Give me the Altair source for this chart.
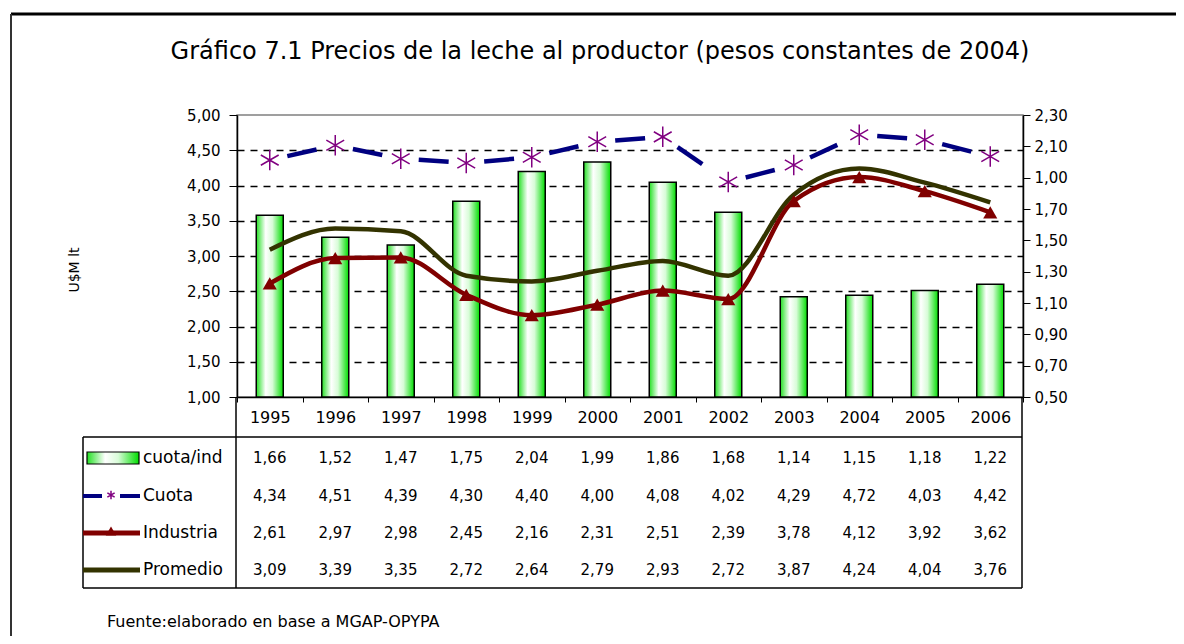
import altair as alt
import pandas as pd

# ---------------- data ----------------
years = ["1995", "1996", "1997", "1998", "1999", "2000",
         "2001", "2002", "2003", "2004", "2005", "2006"]

# values as printed in the data table
tab_cuota_ind = [1.66, 1.52, 1.47, 1.75, 2.04, 1.99, 1.86, 1.68, 1.14, 1.15, 1.18, 1.22]
tab_cuota = [4.34, 4.51, 4.39, 4.30, 4.40, 4.00, 4.08, 4.02, 4.29, 4.72, 4.03, 4.42]
tab_industria = [2.61, 2.97, 2.98, 2.45, 2.16, 2.31, 2.51, 2.39, 3.78, 4.12, 3.92, 3.62]
tab_promedio = [3.09, 3.39, 3.35, 2.72, 2.64, 2.79, 2.93, 2.72, 3.87, 4.24, 4.04, 3.76]

# values as drawn in the plot
plot_cuota_ind = [1.66, 1.52, 1.47, 1.75, 1.94, 2.00, 1.87, 1.68, 1.14, 1.15, 1.18, 1.22]
plot_cuota = [4.36, 4.57, 4.38, 4.32, 4.40, 4.62, 4.69, 4.05, 4.29, 4.72, 4.65, 4.41]
plot_industria = [2.61, 2.97, 2.98, 2.45, 2.16, 2.31, 2.51, 2.39, 3.78, 4.12, 3.92, 3.62]
plot_promedio = [3.09, 3.39, 3.35, 2.72, 2.64, 2.79, 2.93, 2.72, 3.87, 4.24, 4.04, 3.76]

left_ticks = [1.0, 1.5, 2.0, 2.5, 3.0, 3.5, 4.0, 4.5, 5.0]
right_ticks = [0.5, 0.7, 0.9, 1.1, 1.3, 1.5, 1.7, 1.9, 2.1, 2.3]
right_tick_labels = ["0,50", "0,70", "0,90", "1,10", "1,30", "1,50",
                     "1,70", "1,00", "2,10", "2,30"]

row_labels = ["cuota/ind", "Cuota", "Industria", "Promedio"]
row_tables = [tab_cuota_ind, tab_cuota, tab_industria, tab_promedio]

title_text = "Gráfico 7.1 Precios de la leche al productor (pesos constantes de 2004)"
source_text = "Fuente:elaborado en base a MGAP-OPYPA"
y_title = "U$M lt"

# ---------------- styling ----------------
FONT = "DejaVu Sans"
NAVY = "#000080"
PURPLE = "#800080"
DRED = "#800000"
OLIVE = "#333300"

W, H = 786, 282
row_y = [343, 381, 418, 455]

df = pd.DataFrame({
    "year": years,
    "bar": plot_cuota_ind,
    "cuota": plot_cuota,
    "industria": plot_industria,
    "promedio": plot_promedio,
})

seg_rows = []
for i in range(len(years) - 1):
    seg_rows.append({"seg": i, "year": years[i], "v": plot_cuota[i]})
    seg_rows.append({"seg": i, "year": years[i + 1], "v": plot_cuota[i + 1]})
seg_df = pd.DataFrame(seg_rows)

xscale = alt.Scale(domain=years, paddingInner=0, paddingOuter=0)
x_axis = alt.Axis(title=None, labelAngle=0, labelFont=FONT, labelFontSize=16,
                  labelColor="black", domainColor="black", domainWidth=1.5,
                  tickColor="black", tickSize=5, tickBand="extent",
                  labelPadding=7, grid=False)
X = alt.X("year:O", scale=xscale, axis=x_axis)

yleft_scale = alt.Scale(domain=[1, 5], zero=False, nice=False)
fmt = "replace(format(datum.value, '.2f'), '.', ',')"
left_axis = alt.Axis(values=left_ticks, labelExpr=fmt, title=None, orient="left",
                     labelFont=FONT, labelFontSize=15, labelColor="black",
                     domainColor="black", domainWidth=1.5, tickColor="black",
                     tickSize=8, labelPadding=9,
                     grid=True, gridColor="black", gridDash=[7, 6], gridWidth=1.6,
                     gridOpacity={"condition": {"test": "datum.value <= 1 || datum.value >= 5",
                                                "value": 0}, "value": 1})

right_expr = "[" + ",".join("'%s'" % s for s in right_tick_labels) + "][round((datum.value - 0.5) / 0.2)]"

gradient = alt.LinearGradient(
    gradient="linear", x1=0, x2=1, y1=0, y2=0,
    stops=[alt.GradientStop(color="#22e022", offset=0),
           alt.GradientStop(color="#ffffff", offset=0.35),
           alt.GradientStop(color="#d8fcd8", offset=0.6),
           alt.GradientStop(color="#00dd00", offset=1)],
)

base = alt.Chart(df)

bars = base.mark_bar(fill=gradient, stroke="black", strokeWidth=1.5, size=27).encode(
    x=X,
    y=alt.Y("bar:Q", scale=alt.Scale(domain=[0.5, 2.3], zero=False, nice=False),
            axis=alt.Axis(orient="right", values=right_ticks, labelExpr=right_expr,
                          title=None, grid=False, labelFont=FONT, labelFontSize=15,
                          labelColor="black", domainColor="black", domainWidth=1.5,
                          tickColor="black", tickSize=7, labelPadding=4)),
    y2=alt.datum(0.5),
)

YL = lambda f: alt.Y(f, scale=yleft_scale, axis=left_axis)

promedio = base.mark_line(color=OLIVE, strokeWidth=4.5, interpolate="monotone").encode(
    x=X, y=YL("promedio:Q"))
industria = base.mark_line(color=DRED, strokeWidth=4.5, interpolate="monotone").encode(
    x=X, y=YL("industria:Q"))
industria_pts = base.mark_point(shape="triangle-up", filled=True, color=DRED,
                                size=200, opacity=1).encode(x=X, y=YL("industria:Q"))
cuota_line = alt.Chart(seg_df).mark_line(color=NAVY, strokeWidth=4.5,
                                         strokeDash=[30, 200], strokeDashOffset=212).encode(
    x=X, y=YL("v:Q"), detail="seg:N")

STAR = "M0,-1L0,1M-0.87,-0.5L0.87,0.5M-0.87,0.5L0.87,-0.5"
cuota_pts = base.mark_point(shape=STAR, filled=False, color=PURPLE, strokeWidth=1.5,
                            size=420, opacity=1).encode(x=X, y=YL("cuota:Q"))

lines = alt.layer(promedio, industria, industria_pts, cuota_line, cuota_pts)

# ---------------- data table ----------------
one = alt.Data(values=[{"k": 1}])


def rule(x1, x2, y1, y2, color="black", width=1.5):
    return alt.Chart(one).mark_rule(color=color, strokeWidth=width).encode(
        x=alt.value(x1), x2=alt.value(x2), y=alt.value(y1), y2=alt.value(y2))


table_layers = []
for lab, vals, yy in zip(row_labels, row_tables, row_y):
    tdf = pd.DataFrame({"year": years, "v": vals})
    table_layers.append(
        alt.Chart(tdf).transform_calculate(
            label="replace(format(datum.v, '.2f'), '.', ',')"
        ).mark_text(font=FONT, fontSize=15, color="black", align="center",
                    baseline="middle").encode(
            x=X, y=alt.value(yy), text="label:N"))
    table_layers.append(
        alt.Chart(one).mark_text(font=FONT, fontSize=17, color="black", align="left",
                                 baseline="middle", text=lab).encode(
            x=alt.value(-94), y=alt.value(yy)))

frame = [
    rule(-154, 785, 322, 322),
    rule(-154, 785, 473, 473),
    rule(-154, -154, 322, 473),
    rule(-1, -1, 282, 473),
    rule(785, 785, 282, 473),
    # outer frame of the figure
    rule(-226, 939, -101, -101, width=3),
    rule(-226, -226, -101, 521, color="#333333", width=2),
]

legend_syms = [
    alt.Chart(one).mark_rect(fill=gradient, stroke="black", strokeWidth=1.2).encode(
        x=alt.value(-150), x2=alt.value(-98), y=alt.value(337), y2=alt.value(349)),
    rule(-154, -135, 381, 381, color=NAVY, width=4),
    rule(-117, -97, 381, 381, color=NAVY, width=4),
    alt.Chart(one).mark_point(shape=STAR, filled=False, color=PURPLE, strokeWidth=1.5,
                              size=70, opacity=1).encode(
        x=alt.value(-126), y=alt.value(380)),
    rule(-154, -97, 418, 418, color=DRED, width=5),
    alt.Chart(one).mark_point(shape="triangle-up", filled=True, color=DRED, size=110,
                              opacity=1).encode(x=alt.value(-126), y=alt.value(416)),
    rule(-154, -97, 455, 455, color=OLIVE, width=5),
]

texts = [
    alt.Chart(one).mark_text(font=FONT, fontSize=24, color="black", align="center",
                             baseline="middle", text=title_text).encode(
        x=alt.value(363), y=alt.value(-63)),
    alt.Chart(one).mark_text(font=FONT, fontSize=16, color="black", align="left",
                             baseline="middle", text=source_text).encode(
        x=alt.value(-130), y=alt.value(507)),
    alt.Chart(one).mark_text(font=FONT, fontSize=14, color="black", align="center",
                             baseline="middle", angle=270, text=y_title).encode(
        x=alt.value(-162), y=alt.value(155)),
]

chart = alt.layer(
    bars, lines, *table_layers, *frame, *legend_syms, *texts
).resolve_scale(y="independent").properties(
    width=W, height=H,
    autosize=alt.AutoSizeParams(type="none"),
    padding={"left": 229, "top": 107, "right": 153, "bottom": 239},
    background="white",
).configure_view(stroke="#808080", strokeWidth=1.5)

chart.save("out.html", embed_options={"renderer": "svg", "actions": False})
